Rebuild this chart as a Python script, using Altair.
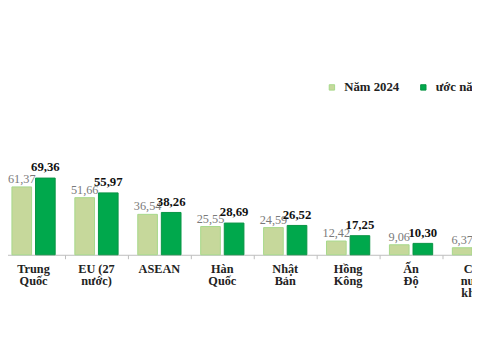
import altair as alt
import pandas as pd

categories = ["Trung\nQuốc", "EU (27\nnước)", "ASEAN", "Hàn\nQuốc", "Nhật\nBản",
              "Hồng\nKông", "Ấn\nĐộ", "Các\nnước\nkhác"]
v2024 = [61.37, 51.66, 36.54, 25.55, 24.59, 12.42, 9.06, 6.37]
v2025 = [69.36, 55.97, 38.26, 28.69, 26.52, 17.25, 10.30, 7.05]
series = ["Năm 2024", "ước năm 2025"]
colors = ["#c6d89b", "#00a84c"]
strokes = ["#a6d88a", "#079443"]

rows = []
for c, a, b in zip(categories, v2024, v2025):
    rows.append({"cat": c, "s": series[0], "v": a, "lab": f"{a:.2f}".replace(".", ",")})
    rows.append({"cat": c, "s": series[1], "v": b, "lab": f"{b:.2f}".replace(".", ",")})
df = pd.DataFrame(rows)

xs = alt.X("cat:N", sort=categories, title=None,
           scale=alt.Scale(range=[-6, 506], paddingInner=0, paddingOuter=0),
           axis=alt.Axis(labelAngle=0, bandPosition=0, tickSize=4, domainColor="#bdbdbd",
                         tickColor="#bdbdbd", labelFont="Liberation Serif", labelFontSize=12.5,
                         labelFontWeight="bold", labelColor="#222222", labelPadding=4,
                         labelLineHeight=12, labelExpr="split(datum.label, '\\n')"))
xo = alt.XOffset("s:N", sort=series,
                 scale=alt.Scale(domain=series, paddingInner=1/6, paddingOuter=10/24))
ys = alt.Y("v:Q", axis=None, scale=alt.Scale(domain=[0, 248 / 1.125], nice=False, zero=True))

base = alt.Chart(df)
bars = base.mark_bar(strokeWidth=1).encode(
    x=xs, xOffset=xo, y=ys,
    color=alt.Color("s:N", sort=series, title=None,
                    scale=alt.Scale(domain=series, range=colors),
                    legend=alt.Legend(orient="none", legendX=323, legendY=71, direction="horizontal",
                                      symbolType="square", symbolSize=30, labelFont="Liberation Serif",
                                      labelFontSize=13, labelFontWeight="bold", labelColor="#222222",
                                      columnPadding=18, labelOffset=6, padding=0,
                                      symbolStrokeColor="#8fcf7a", symbolStrokeWidth=1)),
    stroke=alt.Stroke("s:N", scale=alt.Scale(domain=series, range=strokes), legend=None),
)
t1 = base.transform_filter(alt.datum.s == series[0]).mark_text(
    baseline="bottom", dy=-1, dx=0, font="Liberation Serif", fontSize=12.5, color="#7a7a7a"
).encode(x=xs, xOffset=xo, y=ys, text="lab:N")
t2 = base.transform_filter(alt.datum.s == series[1]).mark_text(
    baseline="bottom", dy=-4, font="Liberation Serif", fontSize=13, fontWeight="bold", color="#111111"
).encode(x=xs, xOffset=xo, y=ys, text="lab:N")

chart = alt.layer(bars, t1, t2).properties(
    width=472, height=248, background="white",
    autosize=alt.AutoSizeParams(type="none"),
    padding={"left": 0, "top": 0, "right": 0, "bottom": 104},
).configure_view(stroke=None)

chart.save("out.html", embed_options={"renderer": "svg", "actions": False})
